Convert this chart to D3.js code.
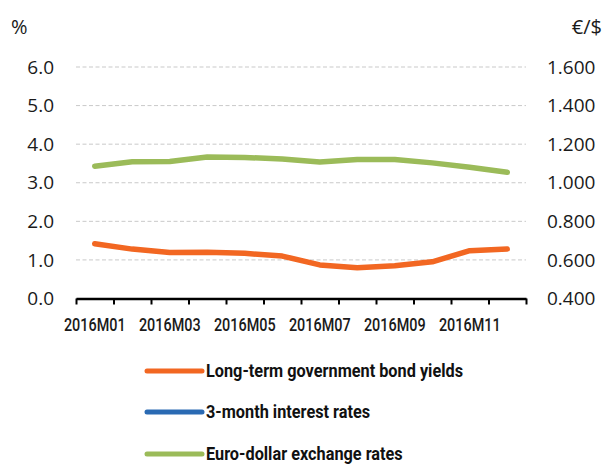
<!DOCTYPE html>
<html>
<head>
<meta charset="utf-8">
<script src="https://cdn.jsdelivr.net/npm/d3@7"></script>
<style>
  body { margin: 0; background: #fff; }
  svg { display: block; }
  .tick-label { font-family: "Open Sans", "Noto Sans", sans-serif; font-size: 19px; fill: #1a1a1a; }
  .unit-label { font-family: "Open Sans", "Noto Sans", sans-serif; font-size: 20px; fill: #1a1a1a; }
  .cat-label { font-family: Roboto, "Liberation Sans", sans-serif; font-weight: 500; font-size: 18px; fill: #1a1a1a; }
  .legend-label { font-family: Roboto, "Liberation Sans", sans-serif; font-weight: bold; font-size: 18.5px; fill: #111; }
</style>
</head>
<body>
<div id="chart"></div>
<script>
// monthly data, 2016
const months = ['2016M01', '2016M02', '2016M03', '2016M04', '2016M05', '2016M06',
                '2016M07', '2016M08', '2016M09', '2016M10', '2016M11', '2016M12'];
const monthLabels = ['2016M01', '2016M03', '2016M05', '2016M07', '2016M09', '2016M11'];

// left axis (%)
const bondYields = [1.42, 1.28, 1.19, 1.20, 1.17, 1.10, 0.87, 0.80, 0.85, 0.95, 1.24, 1.28];
// negative all year, so it falls below the visible range (as in the original)
const threeMonthRates = [-0.15, -0.18, -0.23, -0.25, -0.26, -0.27, -0.29, -0.30, -0.30, -0.31, -0.31, -0.32];
// right axis (€/$)
const euroDollar = [1.086, 1.109, 1.110, 1.134, 1.131, 1.123, 1.107, 1.121, 1.121, 1.103, 1.080, 1.054];

const leftTicks = [0, 1, 2, 3, 4, 5, 6];
const rightTicks = [0.4, 0.6, 0.8, 1.0, 1.2, 1.4, 1.6];

const seriesNames = ['Long-term government bond yields', '3-month interest rates', 'Euro-dollar exchange rates'];
const seriesColors = ['#f26722', '#2a6ab3', '#9bbb59'];

const width = 607, height = 465;
const plot = { left: 76, right: 526, top: 67, bottom: 298.5 };

// no condensed face installed, so squeeze the text horizontally
function condense(sel, factor) {
    sel.each(function () {
        const w = this.getComputedTextLength();
        d3.select(this)
            .attr('textLength', w * factor)
            .attr('lengthAdjust', 'spacingAndGlyphs');
    });
}

const svg = d3.select('#chart').append('svg')
    .attr('width', width)
    .attr('height', height);

const x = d3.scaleBand().domain(months).range([plot.left, plot.right]);
const yLeft = d3.scaleLinear().domain([0, 6]).range([plot.bottom, plot.top]);
const yRight = d3.scaleLinear().domain([0.4, 1.6]).range([plot.bottom, plot.top]);

// gridlines (dashed), none at zero
svg.append('g')
    .selectAll('line')
    .data(leftTicks.filter(d => d > 0))
    .enter()
    .append('line')
    .attr('x1', plot.left)
    .attr('x2', plot.right)
    .attr('y1', d => yLeft(d))
    .attr('y2', d => yLeft(d))
    .attr('stroke', '#c9c9c9')
    .attr('stroke-width', 1)
    .attr('stroke-dasharray', '4,2.5');

// left axis
const leftAxis = svg.append('g')
    .attr('transform', `translate(${plot.left},0)`)
    .call(d3.axisLeft(yLeft).tickValues(leftTicks).tickSize(0).tickPadding(22).tickFormat(d3.format('.1f')));
leftAxis.select('.domain').remove();
leftAxis.selectAll('text').attr('class', 'tick-label');

// right axis
const rightAxis = svg.append('g')
    .attr('transform', `translate(${plot.right},0)`)
    .call(d3.axisRight(yRight).tickValues(rightTicks).tickSize(0).tickPadding(21).tickFormat(d3.format('.3f')));
rightAxis.select('.domain').remove();
rightAxis.selectAll('text').attr('class', 'tick-label');

// unit labels
svg.append('text').attr('class', 'unit-label')
    .attr('x', 11).attr('y', 27).attr('dy', '0.35em')
    .text('%');
svg.append('text').attr('class', 'unit-label')
    .attr('x', 602).attr('y', 27).attr('dy', '0.35em')
    .attr('text-anchor', 'end')
    .text('€/$');

// bottom axis: ticks at band edges
const edges = d3.scaleLinear().domain([0, months.length]).range([plot.left, plot.right]);
const edgeAxis = svg.append('g')
    .attr('transform', `translate(0,${plot.bottom})`)
    .call(d3.axisBottom(edges).tickValues(d3.range(months.length + 1)).tickSize(6).tickSizeOuter(0).tickFormat(''));
edgeAxis.selectAll('line').attr('stroke', '#000').attr('stroke-width', 2);
edgeAxis.select('.domain').attr('stroke', '#000').attr('stroke-width', 2.5);

// bottom axis: category labels
const catAxis = svg.append('g')
    .attr('transform', `translate(0,${plot.bottom})`)
    .call(d3.axisBottom(x).tickValues(monthLabels).tickSize(0).tickPadding(20));
catAxis.select('.domain').remove();
catAxis.selectAll('text').attr('class', 'cat-label').call(condense, 0.8);

// clip lines to the plot area
svg.append('clipPath').attr('id', 'plot-clip')
    .append('rect')
    .attr('x', plot.left)
    .attr('y', plot.top - 10)
    .attr('width', plot.right - plot.left)
    .attr('height', plot.bottom - plot.top + 10);

const cx = m => x(m) + x.bandwidth() / 2;

const series = [
    { values: bondYields, scale: yLeft },
    { values: threeMonthRates, scale: yLeft },
    { values: euroDollar, scale: yRight }
];

const lines = svg.append('g').attr('clip-path', 'url(#plot-clip)');
series.forEach((s, i) => {
    const line = d3.line()
        .x((d, j) => cx(months[j]))
        .y(d => s.scale(d));
    lines.append('path')
        .datum(s.values)
        .attr('d', line)
        .attr('fill', 'none')
        .attr('stroke', seriesColors[i])
        .attr('stroke-width', 5.5)
        .attr('stroke-linejoin', 'round')
        .attr('stroke-linecap', 'round');
});

// legend
const legendY = [371, 412, 454];
const legend = svg.append('g')
    .selectAll('g')
    .data(seriesNames)
    .enter()
    .append('g')
    .attr('transform', (d, i) => `translate(147,${legendY[i]})`);

legend.append('line')
    .attr('x1', 0)
    .attr('x2', 55)
    .attr('stroke', (d, i) => seriesColors[i])
    .attr('stroke-width', 5)
    .attr('stroke-linecap', 'round');

legend.append('text')
    .attr('class', 'legend-label')
    .attr('x', 59)
    .attr('dy', '0.35em')
    .text(d => d)
    .call(condense, 0.88);
</script>
</body>
</html>
